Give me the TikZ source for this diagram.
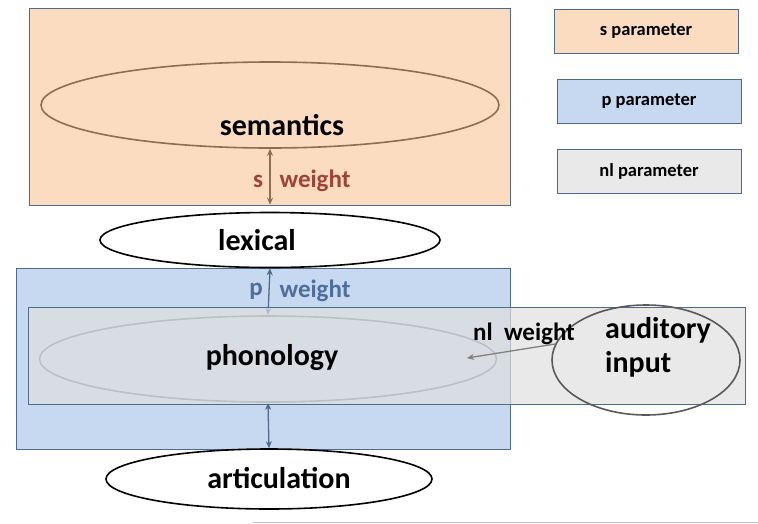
\documentclass[tikz,border=0pt]{standalone}
\usepackage{fontspec}
\setmainfont{Carlito}
\usetikzlibrary{shapes.geometric,arrows.meta}

\definecolor{peach}{HTML}{FBDCC1}
\definecolor{pblue}{HTML}{C6D9F0}
\definecolor{nlgray}{HTML}{E0E0E0}
\definecolor{frame}{HTML}{4F6B8C}
\definecolor{sbrown}{HTML}{8C6E50}
\definecolor{sred}{HTML}{A0413C}
\definecolor{pslate}{HTML}{4F6E9A}

\tikzset{
  area/.style={draw=frame, line width=0.9pt},
  legendbox/.style={area, minimum width=184pt, minimum height=44pt, inner sep=0pt,
    font=\fontsize{18.5}{21}\selectfont\bfseries},
  layer/.style={ellipse, line width=1.6pt, inner sep=0pt},
  biglabel/.style={font=\fontsize{30}{34}\selectfont\bfseries},
  wlabel/.style={font=\fontsize{25}{28}\selectfont\bfseries}
}
\tikzset{
  link/.style={line width=1.3pt, {Stealth[length=7pt,width=6pt]}-{Stealth[length=7pt,width=6pt]}}
}

\begin{document}
\begin{tikzpicture}[x=1pt, y=-1pt]
      \useasboundingbox (0,0) rectangle (758,523);

      % coloured areas
      \node[area, fill=peach, minimum width=481pt, minimum height=197pt, inner sep=0pt] (srect) at (269.5,106.5) {};
      \node[area, fill=pblue, minimum width=494pt, minimum height=181pt, inner sep=0pt] (prect) at (263,358.5) {};

      % legend
      \node[legendbox, fill=peach] (slegend) at (646,31.5) {s parameter};
      \node[legendbox, fill=pblue] (plegend) at (649,101) {p parameter};
      \node[legendbox, fill=nlgray!70] (nllegend) at (649,171) {nl parameter};

      % layers
      \node[layer, draw=sbrown, minimum width=458pt, minimum height=86pt] (sem) at (270,105) {};
      \node[biglabel] (semtext) at (282,125) {semantics};
      \node[layer, draw=black, fill=white, minimum width=340pt, minimum height=55pt] (lex) at (270,240) {};
      \node[biglabel] (lextext) at (257,240) {lexical};
      \node[layer, draw=frame!50!gray, minimum width=457pt, minimum height=86pt] (phon) at (268,359) {};
      \node[layer, draw=black, fill=white, minimum width=326pt, minimum height=60pt] (art) at (269,479) {};
      \node[biglabel] (arttext) at (279,478) {articulation};

      \draw[link, sbrown] (sem.south) -- (lex.north) [shorten >=7pt];
      \node[wlabel, text=sred] (s) at (258,181) {s};
      \node[wlabel, text=sred] (sw) at (315,181) {weight};

      \draw[link, frame] (phon.north) -- (lex.south);
      \node[wlabel, text=pslate] (p) at (256,291) {p};
      \node[wlabel, text=pslate] (pw) at (315,291) {weight};
      \draw[link, frame] (phon.south) -- (art.north);

      % nl area lies over the phonology layer
      \node[area, fill=nlgray, fill opacity=0.7, minimum width=717pt, minimum height=97pt, inner sep=0pt] (nlrect) at (386.5,355.5) {};
      \node[biglabel] (phontext) at (272,358) {phonology};

      \node[layer, draw=black!65, minimum width=188pt, minimum height=110pt] (aud) at (646,360) {};
      \node[biglabel, align=left, anchor=north west, inner sep=0pt] (audtext) at (605,317) {auditory\\input};
      \coordinate (nlend) at (467,358);
      \draw[line width=1.3pt, black!50, -{Stealth[length=7pt,width=6pt]}] (aud.170) -- (nlend);
      \node[wlabel] (nlw) at (524,334) {nl\ \ weight};

      \draw[black!25, line width=0.8pt] (253,522) -- (758,522);
    \end{tikzpicture}
\end{document}
